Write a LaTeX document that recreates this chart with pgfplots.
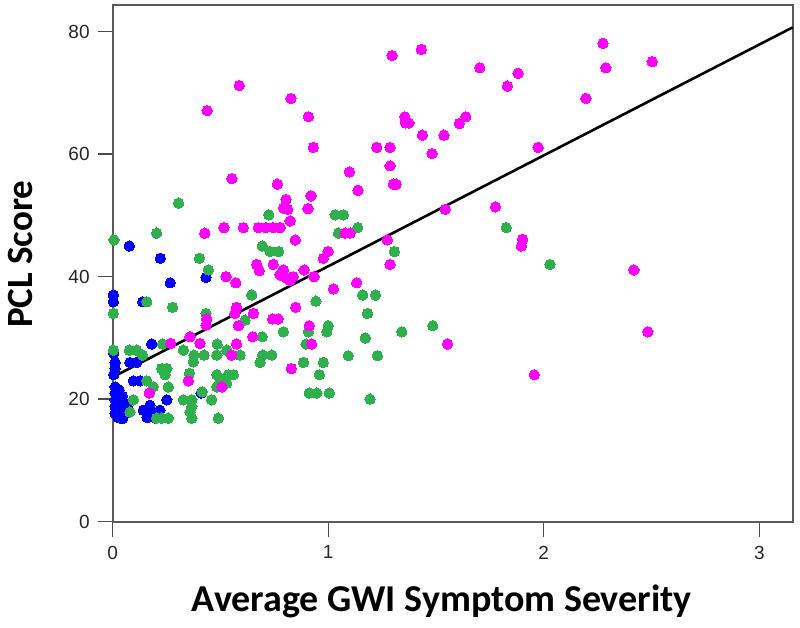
\documentclass[border=0pt]{standalone}
\usepackage{pgfplots}
\pgfplotsset{compat=1.18}
\usepackage{fontspec}
\setmainfont{Liberation Sans}
\newfontfamily\carlito{Carlito}
\definecolor{gblue}{RGB}{0,0,255}
\definecolor{ggreen}{RGB}{46,177,77}
\definecolor{gmag}{RGB}{255,0,255}
\begin{document}
\begin{tikzpicture}
\begin{axis}[
  scale only axis,
  width=340pt, height=258.2pt,
  xmin=0, xmax=3.155, ymin=0, ymax=84.3,
  xtick={0,1,2,3}, ytick={0,20,40,60,80},
  tick align=outside,
  major tick length=7.5pt,
  tick style={black!70, line width=0.7pt},
  axis line style={black!65, line width=0.8pt},
  xtick pos=bottom, ytick pos=left,
  /pgf/number format/assume math mode=true,
  ticklabel style={font=\fontsize{9.5}{11}\selectfont, text=black!85},
  xticklabel style={yshift=-1pt},
  yticklabel style={xshift=-0.5pt},
  xlabel={\carlito\bfseries Average GWI Symptom Severity},
  ylabel={\carlito\bfseries PCL Score},
  xlabel style={font=\fontsize{19}{21}\selectfont, at={(axis description cs:0.484,0)}, anchor=center, yshift=-40pt},
  ylabel style={font=\fontsize{18.5}{20}\selectfont, at={(axis description cs:0,0.518)}, anchor=center, yshift=46pt},
  clip=false,
]
\addplot[only marks, mark=*, mark size=2.6pt, color=gblue, line width=0pt] coordinates {
(0.077,45.0) (0.221,43.0) (0.433,39.9) (0.267,39.0) (0.003,35.9) (0.139,35.9) (0.003,37.0)
(0.181,29.0) (0.011,26.0) (0.011,25.0) (0.080,26.0) (0.111,26.0) (0.005,27.5) (0.005,24.0)
(0.011,22.0) (0.011,21.0) (0.096,23.0) (0.127,23.0) (0.251,19.9) (0.410,21.0)
(0.011,19.9) (0.011,18.8) (0.011,17.7) (0.034,18.8) (0.057,17.7) (0.057,19.3)
(0.030,21.5) (0.045,20.5) (0.070,18.5) (0.025,17.0) (0.045,16.8)
(0.142,18.2) (0.173,19.0) (0.188,17.9) (0.219,18.2) (0.200,16.9) (0.160,17.0)
};
\addplot[only marks, mark=*, mark size=2.6pt, color=ggreen, line width=0pt] coordinates {
(0.306,52.0) (0.724,50.1) (1.032,50.1) (1.070,50.1) (0.204,47.1) (1.137,48.0) (1.047,47.1)
(0.006,46.0) (0.694,45.0) (0.730,44.1) (0.770,44.1) (1.307,44.1) (0.402,43.0) (0.444,41.1)
(1.826,48.0) (2.029,42.0) (1.160,37.0) (1.219,37.0) (0.645,37.0) (0.943,36.0)
(0.003,34.0) (0.158,35.9) (0.278,35.0) (1.182,34.0) (0.433,34.0) (0.614,32.9)
(1.000,32.0) (1.485,32.0) (0.792,31.0) (0.908,31.0) (0.993,31.0) (1.341,31.0)
(0.694,30.2) (1.172,30.0) (0.897,29.0) (0.232,29.0) (0.485,29.0) (1.093,27.1) (1.228,27.1)
(0.003,28.0) (0.077,28.0) (0.111,28.0) (0.328,28.0) (0.529,28.0)
(0.377,27.2) (0.424,27.2) (0.483,27.2) (0.591,27.2) (0.696,27.2) (0.738,27.2) (0.139,27.2)
(0.885,26.0) (0.977,26.0) (0.684,26.0) (0.374,26.1) (0.959,24.0)
(0.227,25.0) (0.251,25.0) (0.243,24.0) (0.356,24.2) (0.483,24.0) (0.537,24.0) (0.560,24.0)
(0.498,23.4) (0.158,23.0) (0.188,22.0) (0.258,22.0) (0.483,22.0) (0.529,22.6) (0.415,21.2)
(0.459,19.9) (0.328,19.9) (0.367,19.9) (0.096,19.9) (0.080,17.9)
(0.204,16.9) (0.227,16.9) (0.258,16.9) (0.359,17.9) (0.367,16.9) (0.490,16.9) (0.367,18.8)
(0.912,21.0) (0.947,21.0) (1.005,21.0) (1.194,20.0)
};
\addplot[only marks, mark=*, mark size=2.6pt, color=gmag, line width=0pt] coordinates {
(0.587,71.2) (0.827,69.1) (0.438,67.1) (0.553,56.0) (0.764,55.1)
(1.296,76.1) (1.432,77.1) (0.908,66.1) (1.703,74.1) (1.881,73.2) (1.831,71.1) (0.931,61.1)
(1.355,66.1) (1.358,65.1) (1.374,65.1) (1.638,66.1) (1.608,65.0)
(1.437,63.1) (1.537,63.1) (1.225,61.1) (1.287,61.1) (1.482,60.1) (1.287,58.1) (1.098,57.1)
(1.138,54.1) (1.302,55.1) (1.315,55.1) (0.920,53.2) (0.804,52.6)
(2.275,78.1) (2.503,75.1) (2.288,74.1) (2.195,69.1) (1.974,61.1) (1.776,51.4)
(1.902,46.1) (1.896,45.0) (2.418,41.1) (2.483,31.0) (1.956,24.0)
(0.792,51.2) (0.812,51.0) (0.906,51.1) (1.543,51.0) (0.823,49.1)
(1.078,47.1) (1.101,47.1) (0.847,46.0) (1.274,46.0) (0.999,44.1) (0.977,43.0) (1.287,42.0)
(0.792,41.1) (0.776,40.3) (0.804,39.8) (0.838,40.0) (0.823,39.4) (0.888,41.1) (0.934,40.0)
(1.132,39.0) (1.024,38.0) (0.849,35.0) (0.912,32.0) (0.923,29.0) (1.553,29.0) (0.829,25.0)
(0.427,47.1) (0.516,48.0) (0.606,48.0) (0.676,48.0) (0.710,48.0) (0.745,48.0) (0.776,48.0)
(0.668,42.0) (0.680,41.0) (0.745,42.0) (0.789,41.0) (0.526,40.0) (0.571,39.0)
(0.575,35.0) (0.567,34.0) (0.653,34.0) (0.436,33.1) (0.433,32.1) (0.742,33.1) (0.768,33.1)
(0.583,32.0) (0.650,30.2) (0.269,29.1) (0.359,30.2) (0.405,29.1) (0.575,29.0) (0.552,27.2)
(0.170,21.0) (0.351,23.0) (0.506,22.0)
};
\addplot[black, line width=1.3pt] coordinates {(0,23.6) (3.155,80.7)};
\end{axis}
\path ([shift={(-56.35pt,-52.65pt)}]current axis.south west) rectangle ([shift={(3.65pt,2.65pt)}]current axis.north east);
\end{tikzpicture}
\end{document}
